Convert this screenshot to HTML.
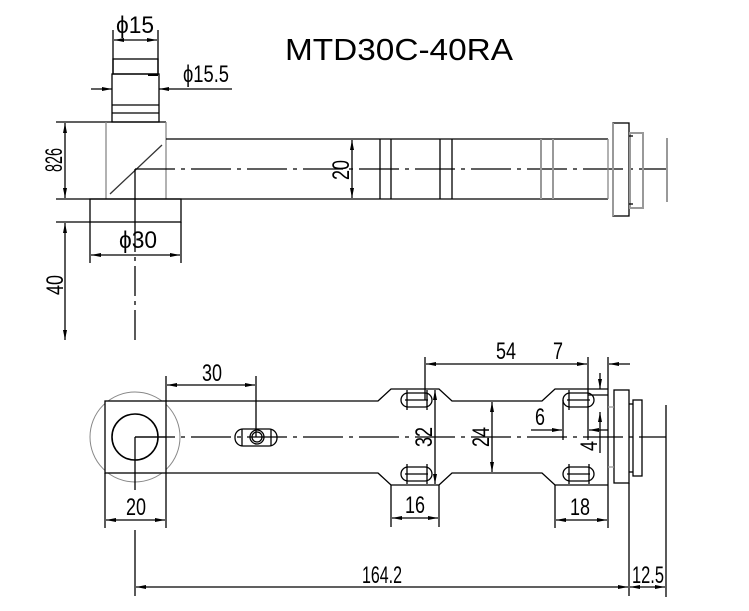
<!DOCTYPE html>
<html><head><meta charset="utf-8"><style>
html,body{margin:0;padding:0;background:#fff;}
svg{display:block;}
text{font-family:"Liberation Sans",sans-serif;fill:#000;}
.d{font-size:24px;fill:#444;}
</style></head><body>
<svg width="749" height="611" viewBox="0 0 749 611" xmlns="http://www.w3.org/2000/svg">
<defs>
<marker id="a" viewBox="0 0 10 6" refX="10" refY="3" markerWidth="10" markerHeight="6" orient="auto-start-reverse" markerUnits="userSpaceOnUse"><path d="M0,1 L10,3 L0,5 Z" fill="#000"/></marker>
</defs>
<text x="285" y="60" font-size="31" textLength="228" lengthAdjust="spacingAndGlyphs">MTD30C-40RA</text>
<g stroke="#000" stroke-width="1.3" fill="none">
<!-- TOP VIEW -->
<line x1="113" y1="30" x2="113" y2="74"/><line x1="158" y1="30" x2="158" y2="74"/>
<line x1="114" y1="40" x2="157" y2="40" marker-start="url(#a)" marker-end="url(#a)"/>
<rect x="113" y="59" width="45" height="15"/>
<rect x="112" y="74" width="47" height="48"/>
<line x1="112" y1="105" x2="159" y2="105"/><line x1="112" y1="113" x2="159" y2="113"/>
<line x1="148" y1="75" x2="158" y2="75" stroke-width="2"/>
<line x1="91" y1="89" x2="112" y2="89" marker-end="url(#a)"/>
<line x1="232" y1="89" x2="159" y2="89" marker-end="url(#a)"/>
<line x1="56" y1="122" x2="166" y2="122"/>
<line x1="106" y1="122" x2="106" y2="199" stroke="#888"/>
<line x1="166" y1="122" x2="166" y2="199" stroke="#888"/>
<line x1="110" y1="194" x2="162" y2="145" stroke="#333"/>
<line x1="166" y1="139" x2="608" y2="139"/>
<line x1="56" y1="199" x2="608" y2="199"/>
<line x1="135" y1="169" x2="667" y2="169" stroke-dasharray="40,6,4,6"/>
<line x1="135" y1="169" x2="135" y2="222"/>
<line x1="135" y1="222" x2="135" y2="340" stroke-dasharray="30,5,4,5"/>
<line x1="65" y1="123" x2="65" y2="198" marker-start="url(#a)" marker-end="url(#a)"/>
<line x1="352" y1="140" x2="352" y2="198" marker-start="url(#a)" marker-end="url(#a)"/>
<rect x="90" y="199" width="91" height="23"/>
<line x1="56" y1="222" x2="90" y2="222"/>
<line x1="90" y1="222" x2="90" y2="263"/><line x1="181" y1="222" x2="181" y2="263"/>
<line x1="91" y1="255" x2="180" y2="255" marker-start="url(#a)" marker-end="url(#a)"/>
<line x1="65" y1="223" x2="65" y2="340" marker-start="url(#a)" marker-end="url(#a)"/>
<line x1="380" y1="139" x2="380" y2="199"/><line x1="391" y1="139" x2="391" y2="199"/>
<line x1="440" y1="139" x2="440" y2="199"/><line x1="452" y1="139" x2="452" y2="199"/>
<line x1="541" y1="139" x2="541" y2="199" stroke="#999" stroke-width="2"/>
<line x1="553" y1="139" x2="553" y2="199" stroke="#999" stroke-width="2"/>
<line x1="608" y1="139" x2="608" y2="199" stroke="#888"/>
<rect x="613" y="123" width="16" height="93"/>
<line x1="613" y1="123" x2="613" y2="216" stroke="#999" stroke-width="2"/>
<rect x="630" y="133" width="13" height="75" stroke="#999" stroke-width="2"/>
<line x1="629" y1="136" x2="633" y2="136"/><line x1="629" y1="204" x2="633" y2="204"/>
<line x1="667" y1="138" x2="667" y2="202" stroke="#999" stroke-width="2"/>

<!-- BOTTOM VIEW -->
<circle cx="135" cy="437" r="45" stroke="#888" stroke-width="1"/>
<rect x="105" y="401" width="61" height="72" fill="#fff"/>
<circle cx="135" cy="437" r="23" stroke-width="1.6"/>
<path d="M166,401 H378 L391,389 H439 L452,401 H542 L555,389 H608"/>
<path d="M166,473 H378 L391,485 H439 L452,473 H542 L555,485 H608" />
<line x1="608" y1="389" x2="608" y2="485"/>
<line x1="608" y1="395" x2="588" y2="395"/>
<rect x="614" y="390" width="15" height="93"/>
<rect x="633" y="400" width="9" height="76"/>
<line x1="629" y1="404" x2="633" y2="404"/><line x1="629" y1="472" x2="633" y2="472"/>
<line x1="608" y1="407" x2="614" y2="407" stroke="#999"/><line x1="608" y1="467" x2="614" y2="467" stroke="#999"/>
<line x1="135" y1="437" x2="666" y2="437" stroke-dasharray="40,6,4,6"/>
<line x1="135" y1="437" x2="166" y2="437"/>
<line x1="135" y1="437" x2="135" y2="490"/>
<g>
<rect x="401" y="393" width="31" height="14" rx="7"/><line x1="405" y1="400" x2="428" y2="400"/><line x1="407" y1="390" x2="407" y2="410"/><line x1="427" y1="390" x2="427" y2="410"/>
<rect x="401" y="467" width="31" height="14" rx="7"/><line x1="405" y1="474" x2="428" y2="474"/><line x1="407" y1="464" x2="407" y2="484"/><line x1="427" y1="464" x2="427" y2="484"/>
<rect x="563" y="393" width="31" height="14" rx="7"/><line x1="567" y1="400" x2="590" y2="400"/><line x1="569" y1="390" x2="569" y2="410"/>
<rect x="563" y="467" width="31" height="14" rx="7"/><line x1="567" y1="474" x2="590" y2="474"/><line x1="569" y1="464" x2="569" y2="484"/><line x1="589" y1="464" x2="589" y2="484"/>
<rect x="235" y="429" width="42" height="17" rx="8"/>
<line x1="242" y1="429" x2="242" y2="446"/><line x1="271" y1="429" x2="271" y2="446"/>
<circle cx="257" cy="437" r="7"/><circle cx="257" cy="437" r="5"/>
</g>
<line x1="256" y1="376" x2="256" y2="437"/>
<line x1="167" y1="385" x2="255" y2="385" marker-start="url(#a)" marker-end="url(#a)"/>
<line x1="166" y1="376" x2="166" y2="401"/>
<line x1="105" y1="473" x2="105" y2="528"/><line x1="166" y1="473" x2="166" y2="528"/>
<line x1="106" y1="520" x2="165" y2="520" marker-start="url(#a)" marker-end="url(#a)"/>
<line x1="135" y1="530" x2="135" y2="596"/>
<line x1="629" y1="483" x2="629" y2="596"/>
<line x1="666" y1="405" x2="666" y2="597"/>
<line x1="136" y1="587" x2="628" y2="587" marker-start="url(#a)" marker-end="url(#a)"/>
<line x1="630" y1="587" x2="665" y2="587" marker-start="url(#a)" marker-end="url(#a)"/>
<line x1="425" y1="357" x2="425" y2="400"/>
<line x1="588" y1="357" x2="588" y2="440"/>
<line x1="608" y1="357" x2="608" y2="389"/>
<line x1="608" y1="485" x2="608" y2="528"/>
<line x1="426" y1="364" x2="587" y2="364" marker-start="url(#a)" marker-end="url(#a)"/>
<line x1="630" y1="364" x2="609" y2="364" marker-end="url(#a)"/>
<line x1="435" y1="390" x2="435" y2="484" marker-start="url(#a)" marker-end="url(#a)"/>
<line x1="492" y1="402" x2="492" y2="472" marker-start="url(#a)" marker-end="url(#a)"/>
<line x1="391" y1="485" x2="391" y2="527"/><line x1="439" y1="485" x2="439" y2="527"/>
<line x1="392" y1="518" x2="438" y2="518" marker-start="url(#a)" marker-end="url(#a)"/>
<line x1="555" y1="485" x2="555" y2="528"/>
<line x1="556" y1="520" x2="607" y2="520" marker-start="url(#a)" marker-end="url(#a)"/>
<line x1="531" y1="430" x2="562" y2="430" marker-end="url(#a)"/>
<line x1="608" y1="430" x2="589" y2="430" marker-end="url(#a)"/>
<line x1="563" y1="400" x2="563" y2="440"/>
<line x1="600" y1="373" x2="600" y2="389" marker-end="url(#a)"/>
<line x1="600" y1="453" x2="600" y2="412" marker-end="url(#a)"/>
</g>
<g class="d">
<text x="116" y="33" textLength="38" lengthAdjust="spacingAndGlyphs">ϕ15</text>
<text x="183" y="82" textLength="46" lengthAdjust="spacingAndGlyphs">ϕ15.5</text>
<text x="119" y="248" textLength="38" lengthAdjust="spacingAndGlyphs">ϕ30</text>
<text transform="translate(62,160) rotate(-90)" text-anchor="middle" textLength="24" lengthAdjust="spacingAndGlyphs">826</text>
<text transform="translate(349,170) rotate(-90)" text-anchor="middle" textLength="20" lengthAdjust="spacingAndGlyphs">20</text>
<text transform="translate(63,285) rotate(-90)" text-anchor="middle" textLength="20" lengthAdjust="spacingAndGlyphs">40</text>
<text x="202" y="381" textLength="20" lengthAdjust="spacingAndGlyphs">30</text>
<text x="126" y="515" textLength="20" lengthAdjust="spacingAndGlyphs">20</text>
<text x="362" y="583" textLength="40" lengthAdjust="spacingAndGlyphs">164.2</text>
<text x="632" y="583" textLength="32" lengthAdjust="spacingAndGlyphs">12.5</text>
<text x="496" y="359" textLength="20" lengthAdjust="spacingAndGlyphs">54</text>
<text x="553" y="359" textLength="10" lengthAdjust="spacingAndGlyphs">7</text>
<text transform="translate(432,437) rotate(-90)" text-anchor="middle" textLength="20" lengthAdjust="spacingAndGlyphs">32</text>
<text transform="translate(489,437) rotate(-90)" text-anchor="middle" textLength="20" lengthAdjust="spacingAndGlyphs">24</text>
<text x="405" y="513" textLength="20" lengthAdjust="spacingAndGlyphs">16</text>
<text x="570" y="515" textLength="20" lengthAdjust="spacingAndGlyphs">18</text>
<text x="535" y="425" textLength="10" lengthAdjust="spacingAndGlyphs">6</text>
<text transform="translate(597,446) rotate(-90)" text-anchor="middle" textLength="10" lengthAdjust="spacingAndGlyphs">4</text>
</g>
</svg>
</body></html>
